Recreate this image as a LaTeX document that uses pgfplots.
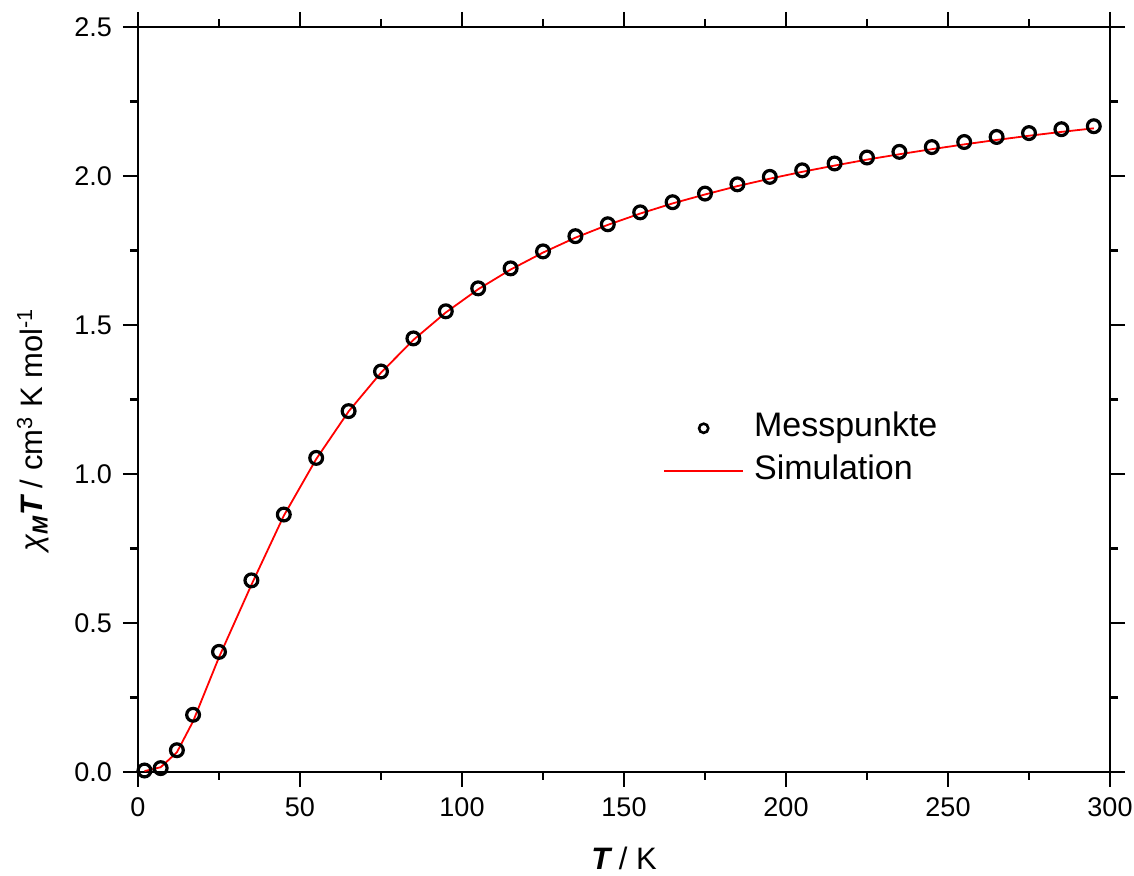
\documentclass[border=0pt]{standalone}
\usepackage{fontspec}
\setmainfont{Liberation Sans}
\usepackage{pgfplots}
\pgfplotsset{compat=1.18}
\begin{document}
\begin{tikzpicture}
\begin{axis}[
  scale only axis, width=486pt, height=372.5pt,
  xmin=0, xmax=300, ymin=0, ymax=2.5,
  xtick={0,50,...,300}, ytick={0,0.5,1.0,1.5,2.0,2.5},
  minor x tick num=1, minor y tick num=1,
  tick align=outside, major tick length=7.5pt, minor tick length=4pt,
  axis line style={line width=1.4pt},
  every tick/.style={black, line width=1.4pt},
  tick label style={font=\fontsize{13.5}{15}\selectfont},
  /pgf/number format/assume math mode=true,
  yticklabel style={xshift=-2pt, /pgf/number format/.cd, fixed, fixed zerofill, precision=1},
  xticklabel style={yshift=-2pt, /pgf/number format/.cd, fixed, precision=0},
  xlabel={{\bfseries\itshape T} / K},
  ylabel={{\itshape χ}\textsubscript{\bfseries\itshape M}{\bfseries\itshape T} / cm\textsuperscript{3} K mol\textsuperscript{-1}},
  every axis x label/.style={at={([yshift=-43pt]rel axis cs:0.5,0)}, anchor=center, font=\fontsize{15.5}{18}\selectfont},
  every axis y label/.style={at={([xshift=-52.5pt]rel axis cs:0,0.459)}, rotate=90, anchor=center, font=\fontsize{15.5}{18}\selectfont},
  legend style={draw=none, fill=none, at={(rel axis cs:0.54,0.4325)}, anchor=west,
    inner sep=0pt, row sep=6pt, font=\fontsize{17}{20}\selectfont,
    nodes={inner sep=0pt, text height=12pt, text depth=3.5pt},
    /tikz/every odd column/.append style={column sep=5pt}},
  legend cell align=left,
]
\addplot[only marks, mark=o, mark size=3.2pt, mark options={black, line width=1.6pt},
  legend image code/.code={\draw[black, line width=1.3pt] (19.75pt,0pt) circle (2.3pt);}]
coordinates {
(2,0.005) (7,0.013) (12,0.073) (17,0.192) (25,0.403) (35,0.643) (45,0.864)
(55,1.054) (65,1.211) (75,1.344) (85,1.455) (95,1.546) (105,1.623) (115,1.690)
(125,1.747) (135,1.798) (145,1.838) (155,1.878) (165,1.912) (175,1.941)
(185,1.972) (195,1.997) (205,2.019) (215,2.042) (225,2.062) (235,2.081)
(245,2.097) (255,2.114) (265,2.131) (275,2.144) (285,2.157) (295,2.167)
};
\addlegendentry{Messpunkte}
\addplot[red, line width=0.9pt, mark=none,
  legend image code/.code={\draw[red, line width=0.9pt] (0pt,0pt) -- (39.5pt,0pt);}]
coordinates {
(2,0.003) (7,0.016) (12,0.066) (17,0.170) (25,0.385) (35,0.628) (45,0.860)
(55,1.050) (65,1.210) (75,1.340) (85,1.450) (95,1.542) (105,1.620) (115,1.686)
(125,1.743) (135,1.793) (145,1.836) (155,1.874) (165,1.908) (175,1.938)
(185,1.966) (195,1.991) (205,2.014) (215,2.035) (225,2.055) (235,2.073)
(245,2.090) (255,2.106) (265,2.121) (275,2.135) (285,2.148) (295,2.160)
};
\addlegendentry{Simulation}
\end{axis}
\pgfresetboundingbox
\path[use as bounding box] ([shift={(-69pt,-52pt)}]current axis.south west) rectangle ([shift={(12pt,13.5pt)}]current axis.north east);
\end{tikzpicture}
\end{document}
